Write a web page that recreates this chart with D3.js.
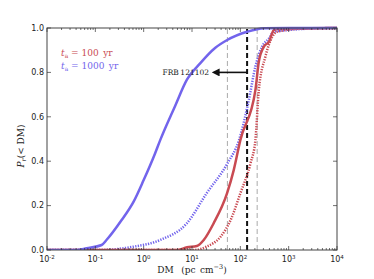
<!DOCTYPE html>
<html>
<head>
<meta charset="utf-8">
<script src="https://cdn.jsdelivr.net/npm/d3@7"></script>
<style>
  body { margin: 0; background: #fff; }
  svg text { fill: #222; }
</style>
</head>
<body>
<div id="chart"></div>
<script>
// DM grid values (pc cm^-3) and cumulative probabilities
const blueSolidDM = [0.01, 0.041, 0.066, 0.135, 0.17, 0.35, 0.62, 1.0, 1.72, 2.2, 4.5, 7.8, 14.9, 30, 53.5, 138, 307, 1000, 10000];
const blueSolidP  = [0, 0, 0.008, 0.0225, 0.045, 0.135, 0.218, 0.315, 0.435, 0.495, 0.65, 0.766, 0.842, 0.91, 0.946, 0.983, 0.999, 1, 1];

const redSolidDM = [0.01, 4.8, 7.9, 12.6, 17.5, 28, 53, 73, 100, 205, 241, 307, 390, 490, 600, 10000];
const redSolidP  = [0, 0, 0.012, 0.018, 0.045, 0.12, 0.255, 0.36, 0.495, 0.72, 0.848, 0.916, 0.938, 0.99, 0.997, 1];

const blueDotDM = [0.01, 0.12, 0.62, 2.2, 7.8, 20, 54, 94, 150, 205, 282, 390, 490, 900, 4500, 10000];
const blueDotP  = [0, 0, 0.015, 0.045, 0.12, 0.255, 0.39, 0.495, 0.676, 0.826, 0.916, 0.953, 0.983, 0.99, 0.999, 1];

const redDotDM = [0.01, 10.7, 20, 39, 63, 100, 162, 205, 241, 330, 457, 575, 1740, 10000];
const redDotP  = [0, 0, 0.015, 0.06, 0.135, 0.255, 0.39, 0.495, 0.72, 0.871, 0.96, 0.983, 0.997, 1];

// vertical markers
const grayLines = [54, 223];
const frbDM = 138;

const xTicks = [-2, -1, 0, 1, 2, 3, 4];
const yTicks = [0, 0.2, 0.4, 0.6, 0.8, 1.0];

const red = "#c94a52", blue = "#7264ec";

const width = 374, height = 279;
const margin = { left: 47, right: 37, top: 28, bottom: 29 };

const svg = d3.select("#chart").append("svg")
  .attr("width", width).attr("height", height);

const x = d3.scaleLog().domain([1e-2, 1e4]).range([margin.left, width - margin.right]);
const y = d3.scaleLinear().domain([0, 1]).range([height - margin.bottom, margin.top]);

svg.append("clipPath").attr("id", "clip").append("rect")
  .attr("x", margin.left).attr("y", margin.top - 2)
  .attr("width", width - margin.left - margin.right)
  .attr("height", height - margin.top - margin.bottom + 2);

const plot = svg.append("g").attr("clip-path", "url(#clip)");

// vertical lines
grayLines.forEach(v => {
  plot.append("line")
    .attr("x1", x(v)).attr("x2", x(v))
    .attr("y1", y(0)).attr("y2", y(1))
    .attr("stroke", "#aaa").attr("stroke-width", 1)
    .attr("stroke-dasharray", "5,3");
});
plot.append("line")
  .attr("x1", x(frbDM)).attr("x2", x(frbDM))
  .attr("y1", y(0)).attr("y2", y(1))
  .attr("stroke", "#111").attr("stroke-width", 2)
  .attr("stroke-dasharray", "5,3");

const line = d3.line().x(d => x(d[0])).y(d => y(d[1])).curve(d3.curveMonotoneX);
const zip = (a, b) => a.map((v, i) => [v, b[i]]);

// dotted curves
plot.append("path").datum(zip(blueDotDM, blueDotP)).attr("d", line)
  .attr("fill", "none").attr("stroke", blue).attr("stroke-width", 2.5)
  .attr("stroke-dasharray", "1.3,1.3");
plot.append("path").datum(zip(redDotDM, redDotP)).attr("d", line)
  .attr("fill", "none").attr("stroke", red).attr("stroke-width", 2.5)
  .attr("stroke-dasharray", "1.3,1.3");
// solid curves
plot.append("path").datum(zip(redSolidDM, redSolidP)).attr("d", line)
  .attr("fill", "none").attr("stroke", red).attr("stroke-width", 2.5);
plot.append("path").datum(zip(blueSolidDM, blueSolidP)).attr("d", line)
  .attr("fill", "none").attr("stroke", blue).attr("stroke-width", 2.5);

// frame
svg.append("rect")
  .attr("x", margin.left).attr("y", margin.top)
  .attr("width", width - margin.left - margin.right)
  .attr("height", height - margin.top - margin.bottom)
  .attr("fill", "none").attr("stroke", "#444").attr("stroke-width", 1);

// x ticks (major + minor), inside, top and bottom
const tickG = svg.append("g").attr("stroke", "#333").attr("stroke-width", 0.7);
xTicks.forEach((e, i) => {
  const v = Math.pow(10, e);
  [y(0), y(1)].forEach((yy, k) => {
    const dir = k === 0 ? -1 : 1;
    tickG.append("line").attr("x1", x(v)).attr("x2", x(v))
      .attr("y1", yy).attr("y2", yy + dir * 4);
    if (i < xTicks.length - 1) {
      for (let m = 2; m < 10; m++) {
        tickG.append("line").attr("x1", x(m * v)).attr("x2", x(m * v))
          .attr("y1", yy).attr("y2", yy + dir * 2);
      }
    }
  });
  const t = svg.append("text")
    .attr("x", x(v)).attr("y", y(0) + 12)
    .attr("text-anchor", "middle")
    .attr("font-family", "DejaVu Sans").attr("font-size", 8);
  t.append("tspan").text("10");
  t.append("tspan").attr("dy", -3.5).attr("font-size", 5.5).text(e);
});

// y ticks, inside, left and right
yTicks.forEach(v => {
  tickG.append("line").attr("x1", x(1e-2)).attr("x2", x(1e-2) + 4)
    .attr("y1", y(v)).attr("y2", y(v));
  tickG.append("line").attr("x1", x(1e4)).attr("x2", x(1e4) - 4)
    .attr("y1", y(v)).attr("y2", y(v));
  svg.append("text")
    .attr("x", margin.left - 3).attr("y", y(v) + 2.8)
    .attr("text-anchor", "end")
    .attr("font-family", "DejaVu Sans").attr("font-size", 8)
    .text(d3.format(".1f")(v));
});

// axis labels
const xl = svg.append("text")
  .attr("x", 192).attr("y", 273)
  .attr("text-anchor", "middle")
  .attr("font-family", "DejaVu Serif").attr("font-size", 9);
xl.append("tspan").text("DM\u2002 (pc\u2002cm");
xl.append("tspan").attr("dy", -4).attr("font-size", 6.5).text("\u22123");
xl.append("tspan").attr("dy", 4).text(")");

const yl = svg.append("text")
  .attr("transform", "translate(24,146) rotate(-90)")
  .attr("text-anchor", "middle")
  .attr("font-family", "DejaVu Serif").attr("font-size", 9);
yl.append("tspan").attr("font-style", "italic").text("P");
yl.append("tspan").attr("dy", 2).attr("font-size", 6.5).attr("font-style", "italic").text("r");
yl.append("tspan").attr("dy", -2).text("(< DM)");

// legend
[["100", red, 56], ["1000", blue, 69]].forEach(([t, c, yy]) => {
  const lg = svg.append("text").attr("x", 61).attr("y", yy)
    .attr("font-family", "DejaVu Serif").attr("font-size", 9)
    .style("fill", c);
  lg.append("tspan").attr("font-style", "italic").text("t");
  lg.append("tspan").attr("dy", 2).attr("font-size", 6).text("a");
  lg.append("tspan").attr("dy", -2).text(" = " + t + "\u2002yr");
});

// FRB arrow and label
svg.append("defs").append("marker")
  .attr("id", "ah").attr("viewBox", "0 0 10 10")
  .attr("refX", 2).attr("refY", 5)
  .attr("markerWidth", 5).attr("markerHeight", 5)
  .attr("orient", "auto-start-reverse")
  .append("path").attr("d", "M0,0 L10,5 L0,10 Z").attr("fill", "#111");
svg.append("line")
  .attr("x1", x(frbDM)).attr("x2", 218)
  .attr("y1", y(0.8)).attr("y2", y(0.8))
  .attr("stroke", "#111").attr("stroke-width", 1.6)
  .attr("marker-end", "url(#ah)");
svg.append("text")
  .attr("x", 209).attr("y", y(0.8) + 3)
  .attr("text-anchor", "end")
  .attr("font-family", "DejaVu Serif").attr("font-size", 7.5)
  .text("FRB\u2009121102");
</script>
</body>
</html>
